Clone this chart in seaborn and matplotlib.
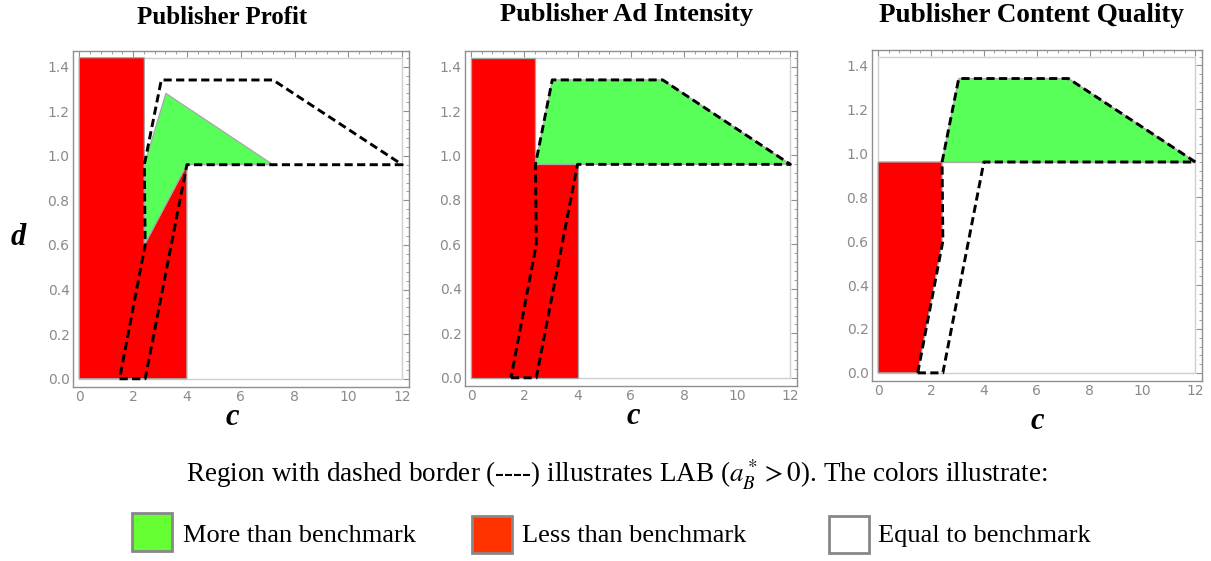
import numpy as np
import pandas as pd
import seaborn as sns
import matplotlib.pyplot as plt
from matplotlib.patches import Rectangle
from matplotlib.ticker import AutoMinorLocator

# ---------------- data ----------------
titles = ["Publisher Profit", "Publisher Ad Intensity", "Publisher Content Quality"]

# LAB region (dashed border), same in every panel
lab_c = [1.5, 2.45, 4.0, 12.0, 7.2, 3.05, 2.42, 2.45, 1.5]
lab_d = [0.0, 0.0, 0.96, 0.96, 1.34, 1.34, 0.96, 0.6, 0.0]

# Publisher Profit
profit_red_c = [0.0, 4.0, 4.0, 2.42, 2.42, 0.0]
profit_red_d = [0.0, 0.0, 0.96, 0.6, 1.44, 1.44]
profit_green_c = [2.42, 2.42, 3.22, 7.2, 4.0]
profit_green_d = [0.6, 0.96, 1.28, 0.96, 0.96]

# Publisher Ad Intensity
ad_red_c = [0.0, 4.0, 4.0, 2.42, 2.42, 0.0]
ad_red_d = [0.0, 0.0, 0.96, 0.96, 1.44, 1.44]
ad_green_c = [2.42, 3.05, 7.2, 12.0]
ad_green_d = [0.96, 1.34, 1.34, 0.96]

# Publisher Content Quality
cq_red_c = [0.0, 1.5, 2.4, 2.42, 2.42, 0.0]
cq_red_d = [0.0, 0.0, 0.58, 0.6, 0.96, 0.96]
cq_green_c = [2.42, 3.05, 7.2, 12.0]
cq_green_d = [0.96, 1.34, 1.34, 0.96]

x_ticks = [0, 2, 4, 6, 8, 10, 12]
y_ticks = [0.0, 0.2, 0.4, 0.6, 0.8, 1.0, 1.2, 1.4]
plot_range_c = (0.0, 12.0)
plot_range_d = (0.0, 1.44)

legend_labels = ["More than benchmark", "Less than benchmark", "Equal to benchmark"]

# ---------------- style ----------------
sns.set_theme(style="white")
plt.rcParams['font.family'] = ['DejaVu Sans']
plt.rcParams['mathtext.fontset'] = 'stix'
plt.rcParams['text.color'] = 'black'

RED = '#ff0000'
GREEN = '#59ff59'
EDGE = '#a8a8a8'
FRAME = '#8f8f8f'
TICKLAB = '#8a8a8a'

W, H = 1211, 561
fig = plt.figure(figsize=(W / 100, H / 100), dpi=100)

def px_box(x0, y0, x1, y1):
    return [x0 / W, 1 - y1 / H, (x1 - x0) / W, (y1 - y0) / H]

axes_px = [(73, 51, 409, 387), (465, 51, 797, 386), (872, 50, 1202, 381)]
panels = [
    (profit_red_c, profit_red_d, profit_green_c, profit_green_d),
    (ad_red_c, ad_red_d, ad_green_c, ad_green_d),
    (cq_red_c, cq_red_d, cq_green_c, cq_green_d),
]

for i, (box, (rc, rd, gc, gd)) in enumerate(zip(axes_px, panels)):
    ax = fig.add_axes(px_box(*box))
    ax.set_facecolor('white')
    ax.fill(rc, rd, facecolor=RED, edgecolor=EDGE, lw=0.9, zorder=2)
    ax.fill(gc, gd, facecolor=GREEN, edgecolor=EDGE, lw=0.9, zorder=2)
    # plot range boundary
    c0, c1 = plot_range_c
    d0, d1 = plot_range_d
    ax.plot([c0, c1, c1, c0, c0], [d0, d0, d1, d1, d0], color='#cfcfcf', lw=1.0, zorder=1)
    if i == 2:
        ax.plot([c0, c1], [0.96, 0.96], color='#b5b5b5', lw=1.0, zorder=1)
    sns.lineplot(x=lab_c, y=lab_d, sort=False, estimator=None, color='black',
                 lw=2.1, linestyle=(0, (2.8, 1.5)), ax=ax, zorder=5)
    ax.set_xticks(x_ticks)
    ax.set_yticks(y_ticks)
    ax.set_xticklabels([str(t) for t in x_ticks])
    ax.set_yticklabels([f"{t:.1f}" for t in y_ticks])
    ax.xaxis.set_minor_locator(AutoMinorLocator(5))
    ax.yaxis.set_minor_locator(AutoMinorLocator(5))
    ax.set_xlim(-0.23, 12.25)
    ax.set_ylim(-0.037, 1.47)
    ax.tick_params(which='both', direction='in', top=True, right=True,
                   color=FRAME, labelcolor=TICKLAB, labelsize=10, pad=2.5)
    ax.tick_params(which='major', length=4.5, width=0.8)
    ax.tick_params(which='minor', length=2.5, width=0.6)
    for s in ax.spines.values():
        s.set_color(FRAME)
        s.set_linewidth(1.0)
    ax.set_xlabel('')
    ax.set_ylabel('')

# titles
title_pos = [(222, 17), (627, 15), (1031, 16)]
title_sizes = [18, 19, 19.5]
for t, (x, y), fs in zip(titles, title_pos, title_sizes):
    fig.text(x / W, 1 - y / H, t, ha='center', va='center', color='black',
             family='Liberation Serif', weight='bold', fontsize=fs)

# axis labels
lab_font = dict(family='Liberation Serif', weight='bold', style='italic',
                fontsize=22, color='black')
fig.text(18 / W, 1 - 245 / H, 'd', ha='center', va='baseline', **lab_font)
for x, y in [(232, 425), (633, 424), (1037, 429)]:
    fig.text(x / W, 1 - y / H, 'c', ha='center', va='baseline', **lab_font)

# caption
fig.text(617 / W, 1 - 475 / H,
         r"Region with dashed border (----) illustrates LAB ($a_B^* > 0$). The colors illustrate:",
         ha='center', va='center', family='Liberation Serif', fontsize=19.5, color='black')

# legend
leg_boxes = [(132, 513, 172, 551, '#66ff33'), (472, 516, 512, 553, '#ff3300'),
             (829, 516, 869, 553, 'white')]
leg_text_x = [183, 522, 878]
for (x0, y0, x1, y1, col), lab, tx in zip(leg_boxes, legend_labels, leg_text_x):
    fig.add_artist(Rectangle((x0 / W, 1 - y1 / H), (x1 - x0) / W, (y1 - y0) / H,
                             transform=fig.transFigure, facecolor=col,
                             edgecolor='#888888', lw=2.0))
    fig.text(tx / W, 1 - 536 / H, lab, ha='left', va='center', color='black',
             family='Liberation Serif', fontsize=19)

fig.savefig('out.png', dpi=100)
